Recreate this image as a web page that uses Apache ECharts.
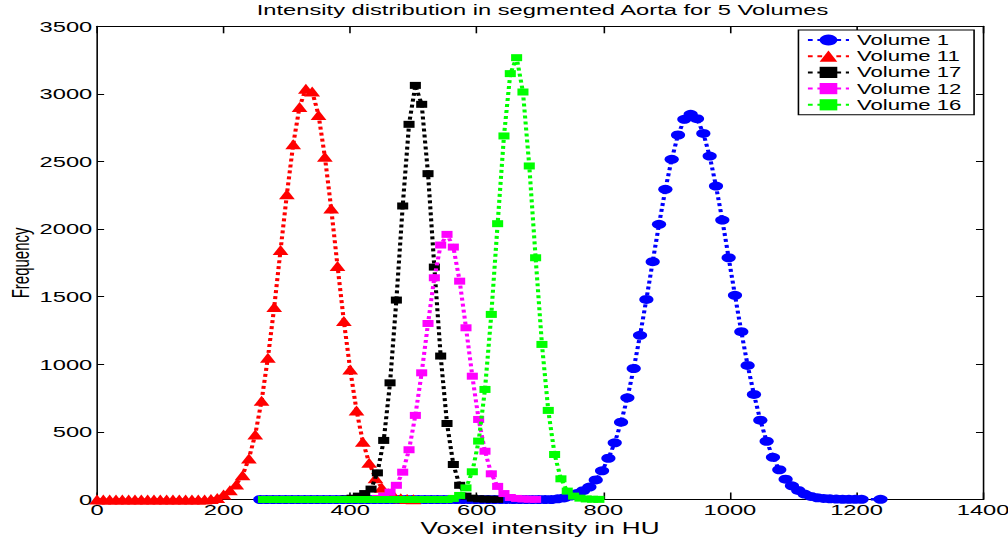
<!DOCTYPE html>
<html><head><meta charset="utf-8">
<script src="https://cdn.jsdelivr.net/npm/echarts@6/dist/echarts.min.js"></script>
<style>
html,body{margin:0;padding:0;background:#fff;overflow:hidden;}
#wrap{width:1008px;height:541px;overflow:hidden;position:relative;}
#chart{width:638px;height:541px;transform:scaleX(1.58);transform-origin:0 0;}
</style></head><body>
<div id="wrap"><div id="chart"></div></div>
<script>
// ---- data ----
const seriesNames = ['Volume 1', 'Volume 11', 'Volume 17', 'Volume 12', 'Volume 16'];
const xTicks = [0, 200, 400, 600, 800, 1000, 1200, 1400];
const yTicks = [0, 500, 1000, 1500, 2000, 2500, 3000, 3500];

const vol1X = [258,268,278,288,298,308,318,328,338,348,358,368,378,388,398,408,418,428,438,448,458,468,478,488,498,508,518,528,538,548,558,568,578,588,598,608,618,628,638,648,658,668,678,688,698,708,718,
  728,738,748,758,768,778,788,798,808,818,828,838,848,858,868,878,888,898,908,918,928,938,948,958,968,978,988,998,1008,1018,1028,1038,1048,1058,1068,1078,1088,1098,1108,1118,1128,1138,1148,1158,1168,1178,1188,1198,1208,1238];
const vol1Y = [0,0,0,0,0,0,0,0,0,0,0,0,0,0,0,0,0,0,0,0,0,0,0,0,0,0,0,0,0,0,0,0,0,0,0,0,0,0,0,0,0,0,0,0,0,0,0,
  5,12,25,44,65,92,145,212,305,419,572,752,969,1214,1480,1759,2035,2294,2516,2696,2812,2849,2817,2708,2540,2318,2067,1788,1510,1241,992,777,587,431,312,220,150,101,67,40,23,13,8,5,3,2,1,1,1,1];

const vol11X = [0,10,20,30,40,50,60,70,80,90,100,110,120,130,140,150,160,170,180,190,200,210,220,230,240,250,260,270,280,290,300,310,320,330,340,350,360,370,380,390,400,410,420,430,440,450,460,470,480,490,500];
const vol11Y = [0,0,0,0,0,0,0,0,0,0,0,0,0,0,0,0,0,0,3,12,37,68,111,180,303,481,730,1048,1423,1845,2257,2627,2903,3039,3017,2844,2536,2153,1727,1320,962,659,428,271,157,86,46,22,10,4,1];

const vol17X = [393,403,413,423,433,443,453,463,473,483,493,503,513,523,533,543,553,563,573,583,593,603,613,623,633];
const vol17Y = [3,10,25,44,77,197,437,863,1475,2171,2775,3063,2923,2410,1719,1061,562,259,105,25,10,5,3,2,1];

const vol12X = [443,453,463,473,483,493,503,513,523,533,543,553,563,573,583,593,603,613,623,633,643,653,663,673,683,693];
const vol12Y = [8,25,54,105,202,368,622,937,1302,1640,1882,1961,1867,1615,1270,912,592,357,190,97,44,15,8,4,2,1];

const vol16X = [263,273,283,293,303,313,323,333,343,353,363,373,383,393,403,413,423,433,443,453,463,473,483,493,503,513,523,533,543,553,
  563,573,583,593,603,613,623,633,643,653,663,673,683,693,703,713,723,733,743,753,763,773,783,793];
const vol16Y = [0,0,0,0,0,0,0,0,0,0,0,0,0,0,0,0,0,0,0,0,0,0,0,0,0,0,0,0,0,0,
  8,30,86,205,432,814,1369,2040,2689,3150,3268,3014,2467,1788,1147,659,333,153,62,25,10,4,2,1];

const colors = ['#0000ff', '#ff0000', '#000000', '#ff00ff', '#00ff00'];
const symbols = ['circle', 'triangle', 'rect', 'rect', 'rect'];
const symbolSizes = [9, 10, 7, 7, 7];

// ---- chart ----
const FONT = "'Liberation Sans', Arial, Helvetica, sans-serif";
const xs = [vol1X, vol11X, vol17X, vol12X, vol16X];
const ys = [vol1Y, vol11Y, vol17Y, vol12Y, vol16Y];
const zip = (a, b) => a.map((v, i) => [v, b[i]]);
const plain = v => String(v);

const chart = echarts.init(document.getElementById('chart'), null, {renderer: 'svg'});

const axisCommon = {
  axisLine: {show: true, onZero: false, lineStyle: {color: '#000', width: 1}},
  splitLine: {show: false},
  axisLabel: {color: '#000', fontSize: 15, fontFamily: FONT, formatter: plain},
  nameTextStyle: {color: '#000', fontSize: 16.5, fontFamily: FONT}
};

const option = {
  animation: false,
  backgroundColor: '#fff',
  title: {
    text: 'Intensity distribution in segmented Aorta for 5 Volumes',
    left: 162.5, top: 2, padding: 0,
    textStyle: {color: '#000', fontSize: 15, fontWeight: 'normal', fontFamily: FONT}
  },
  grid: {left: 61.4, right: 15.8, top: 26.3, bottom: 41.5, containLabel: false, outerBoundsMode: 'none'},
  legend: {
    data: seriesNames,
    orient: 'vertical', right: 21.5, top: 30,
    padding: [3, 8, 3, 5], itemGap: 2.2, itemWidth: 26, itemHeight: 14,
    borderColor: '#000', borderWidth: 1, borderRadius: 0, backgroundColor: '#fff',
    textStyle: {color: '#000', fontSize: 14, fontFamily: FONT}
  },
  xAxis: [
    Object.assign({}, axisCommon, {
      type: 'value', position: 'bottom', min: xTicks[0], max: xTicks[xTicks.length - 1], interval: 200,
      axisTick: {inside: true, length: 7, lineStyle: {color: '#000'}},
      axisLabel: Object.assign({}, axisCommon.axisLabel, {margin: 3}),
      name: 'Voxel intensity in HU', nameLocation: 'middle', nameGap: 20, nameMoveOverlap: false
    }),
    Object.assign({}, axisCommon, {
      type: 'value', position: 'top', min: xTicks[0], max: xTicks[xTicks.length - 1], interval: 200,
      axisTick: {inside: true, length: 7, lineStyle: {color: '#000'}},
      axisLabel: {show: false}
    })
  ],
  yAxis: [
    Object.assign({}, axisCommon, {
      type: 'value', position: 'left', min: yTicks[0], max: yTicks[yTicks.length - 1], interval: 500,
      axisTick: {inside: true, length: 4.5, lineStyle: {color: '#000'}},
      axisLabel: Object.assign({}, axisCommon.axisLabel, {margin: 3}),
      name: 'Frequency', nameLocation: 'middle', nameGap: 41, nameMoveOverlap: false,
      nameTextStyle: {color: '#000', fontSize: 15, fontFamily: FONT}
    }),
    Object.assign({}, axisCommon, {
      type: 'value', position: 'right', min: yTicks[0], max: yTicks[yTicks.length - 1], interval: 500,
      axisTick: {inside: true, length: 4.5, lineStyle: {color: '#000'}},
      axisLabel: {show: false}
    })
  ],
  series: seriesNames.map((name, i) => ({
    type: 'line', name: name,
    xAxisIndex: 0, yAxisIndex: 0,
    data: zip(xs[i], ys[i]),
    symbol: symbols[i], symbolSize: symbolSizes[i], showAllSymbol: true,
    lineStyle: {color: colors[i], width: 2.6, type: [3, 3]},
    itemStyle: {color: colors[i], borderWidth: 0},
    emphasis: {disabled: true},
    z: 2 + i
  }))
};
chart.setOption(option);
</script>
</body></html>
